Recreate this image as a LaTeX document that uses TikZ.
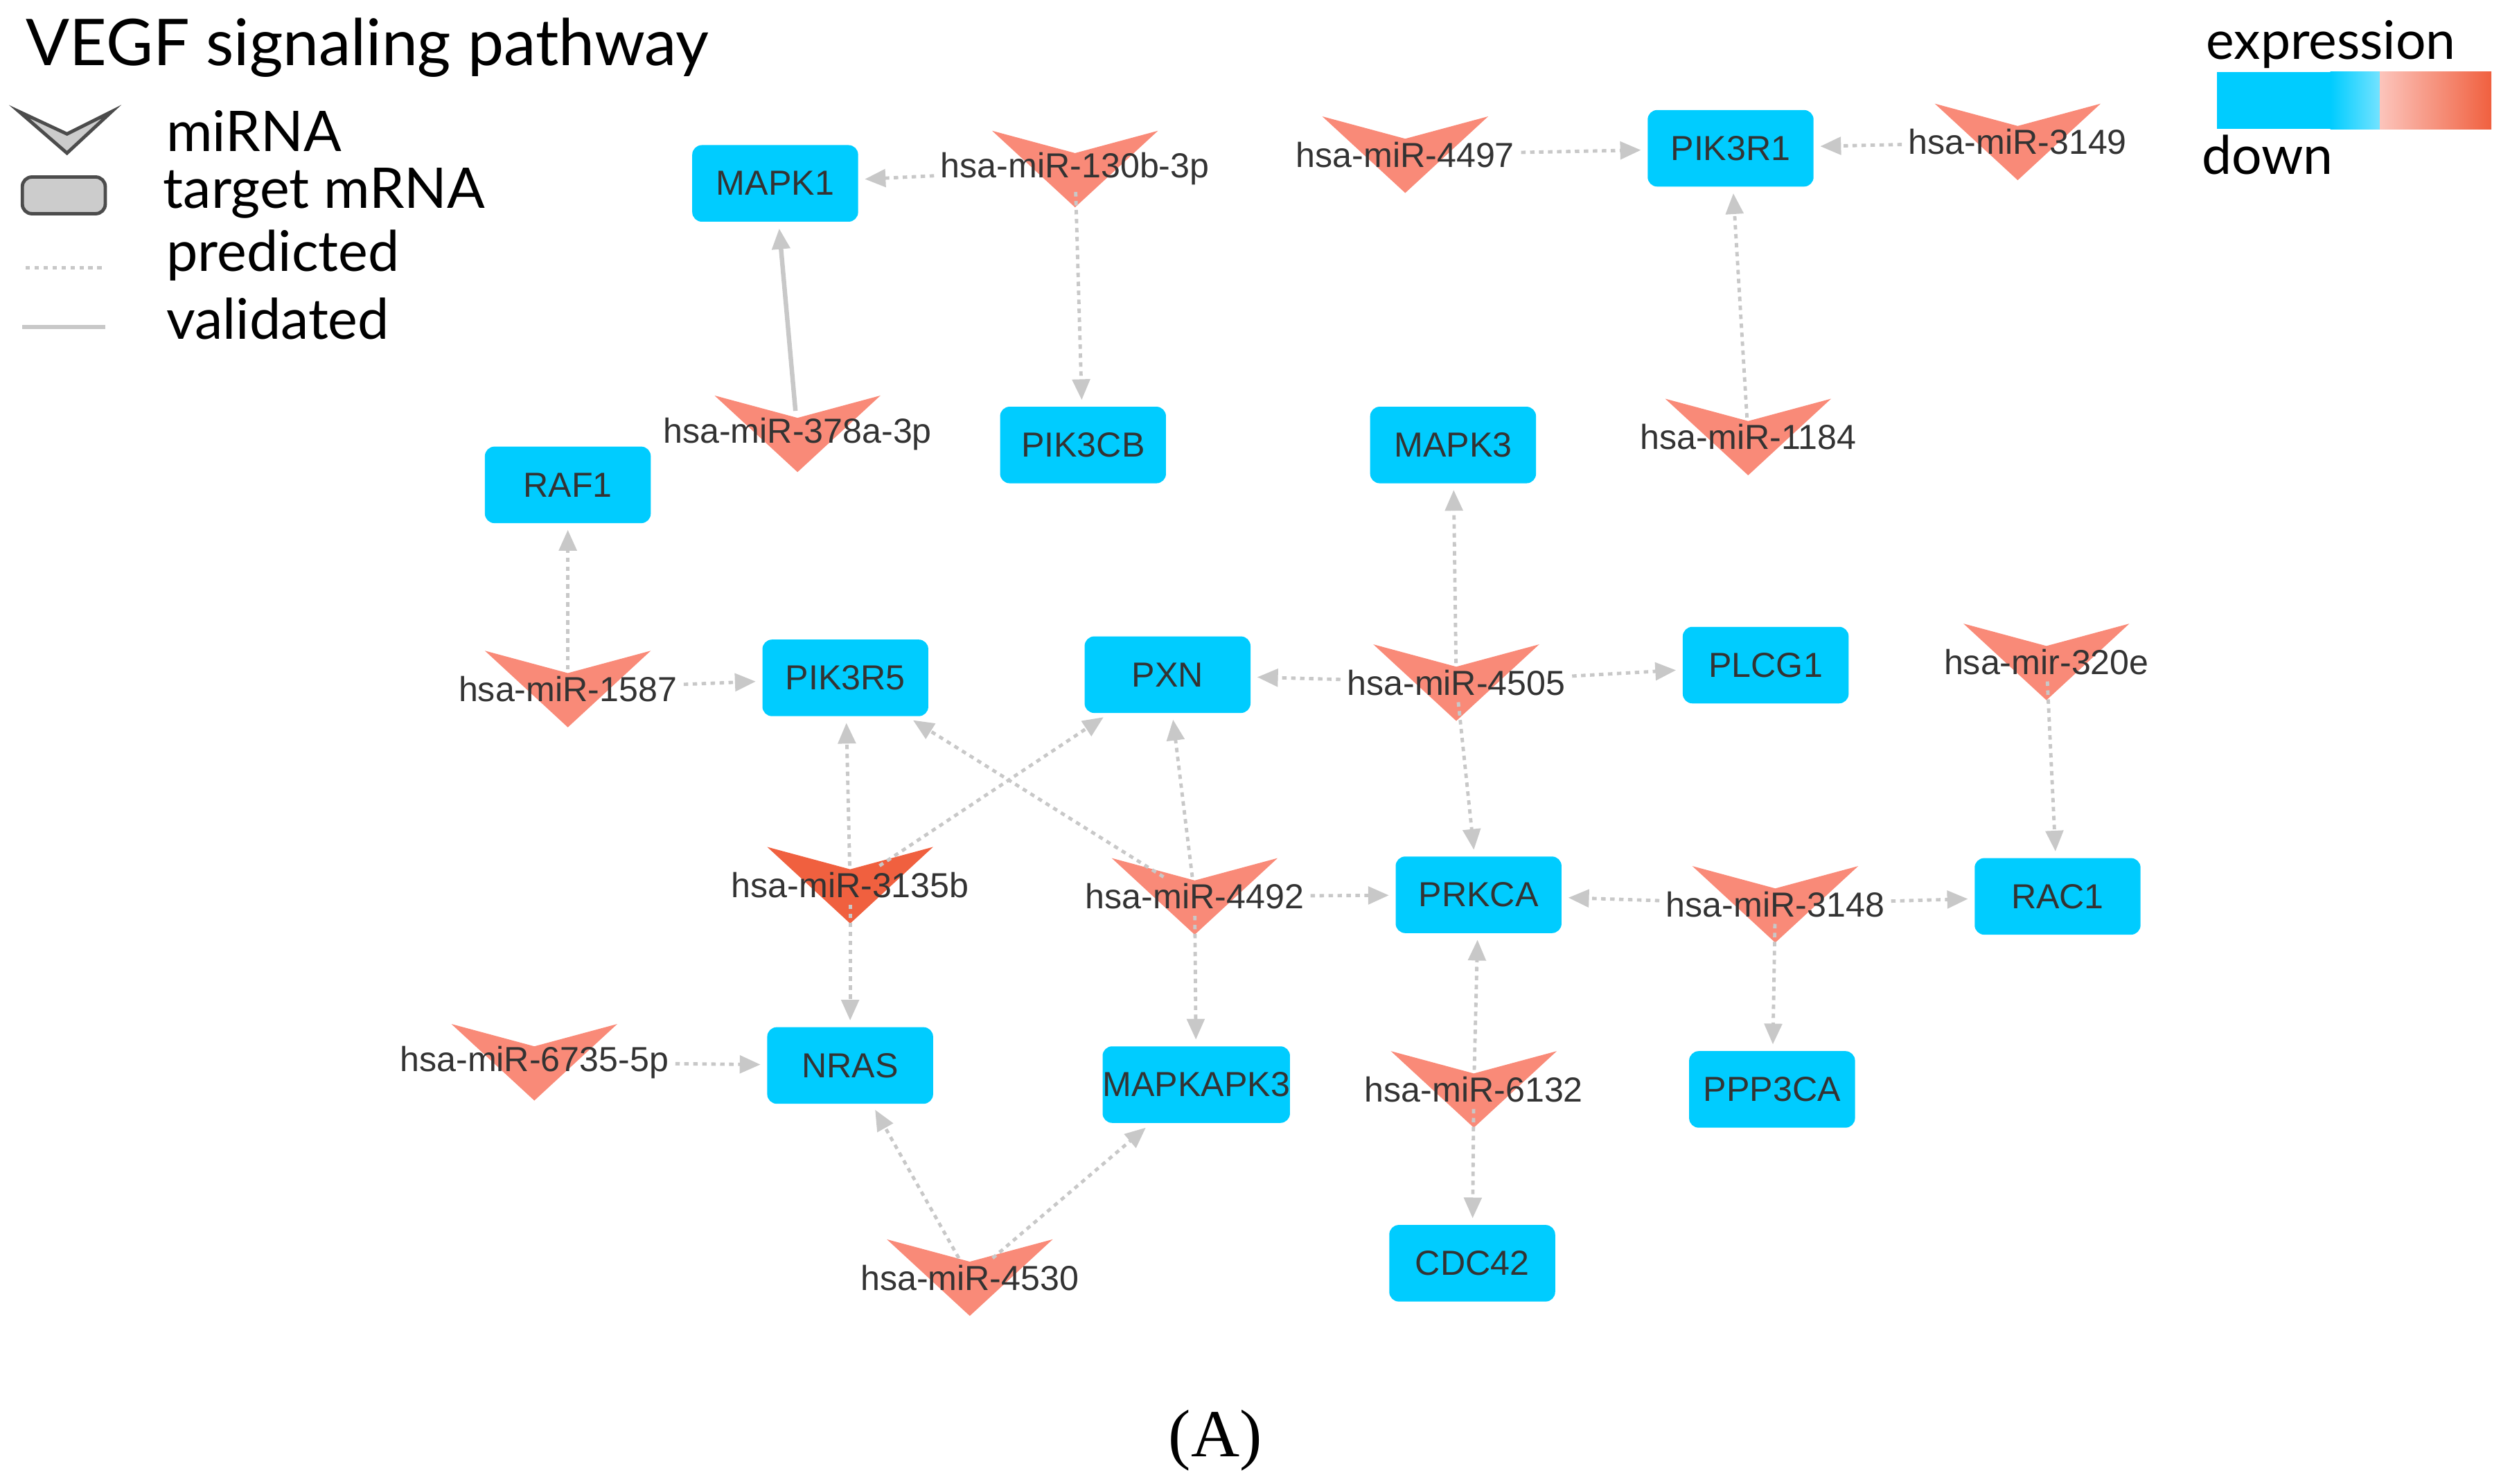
\documentclass[tikz,border=0pt]{standalone}
\usepackage{fontspec}
\setmainfont{Liberation Sans}
\newfontfamily\titlefont{Lato}
\newfontfamily\capfont{Liberation Serif}
\usetikzlibrary{arrows.meta,positioning,shapes}

\definecolor{mrnablue}{RGB}{0,204,255}
\definecolor{mirred}{RGB}{249,138,120}
\definecolor{mirdark}{RGB}{240,96,63}
\definecolor{edgegray}{RGB}{200,200,200}

% chevron + label of one miRNA
\newcommand{\mir}[4]{%
  \fill[#4] ([shift={(-52,-24)}]#2) -- ([shift={(0,-10)}]#2) -- ([shift={(52,-24)}]#2) -- ([shift={(0,24)}]#2) -- cycle;
  \node[mirlbl] (#1) at (#2) {#3};}

\begin{document}
\begin{tikzpicture}[x=0.1mm,y=-0.1mm,
  gene/.style={fill=mrnablue,rounded corners=0.6mm,minimum width=10.4mm,minimum height=4.8mm,inner sep=0pt,font=\fontsize{6.2}{7}\selectfont,text=black!80},
  mirlbl/.style={inner sep=1pt,font=\fontsize{6.2}{7}\selectfont,text=black!80},
  pred/.style={draw=edgegray,line width=0.6pt,dash pattern=on 0.8pt off 0.8pt,-{Triangle[length=1.3mm,width=1.1mm]},shorten >=1pt},
  valid/.style={draw=edgegray,line width=0.8pt,-{Triangle[length=1.3mm,width=1.1mm]},shorten >=1pt},
  leg/.style={anchor=west,font=\titlefont\fontsize{10}{12}\selectfont}]
  \useasboundingbox (0,0) rectangle (1568,930);

  % legend
  \node[anchor=west,font=\titlefont\fontsize{11.5}{13}\selectfont] (title) at (4,30) {VEGF signaling pathway};
  \draw[black!70,fill=black!20,line width=0.6pt] (12,70) -- (42,84) -- (70,70) -- (42,96) -- cycle;
  \node[leg] (lmir) at (92,82) {miRNA};
  \draw[black!70,fill=black!20,line width=0.6pt,rounded corners=0.6mm] (14,111) rectangle (66,134);
  \node[leg] (lmrna) at (90,121) {target mRNA};
  \draw[edgegray,line width=0.6pt,dash pattern=on 0.8pt off 0.8pt] (16,168) -- (64,168);
  \node[leg] (lpred) at (92,160) {predicted};
  \draw[edgegray,line width=0.8pt] (14,205) -- (66,205);
  \node[leg] (lval) at (92,200) {validated};

  % expression bar
  \fill[mrnablue] (1390,45) rectangle (1462,81);
  \shade[left color=mrnablue,right color=mrnablue!55] (1461,45) rectangle (1492,81);
  \shade[left color=mirred!50,right color=mirdark] (1492,45) rectangle (1562,81);
  \node[anchor=east,font=\titlefont\fontsize{9.5}{11}\selectfont] (expr) at (1552,28) {expression};
  \node[anchor=west,font=\titlefont\fontsize{9.5}{11}\selectfont] (down) at (1368,97) {down};

  % target mRNAs
  \node[gene] (MAPK1) at (486,115) {MAPK1};
  \node[gene] (PIK3CB) at (679,279) {PIK3CB};
  \node[gene] (MAPK3) at (911,279) {MAPK3};
  \node[gene] (PIK3R1) at (1085,93) {PIK3R1};
  \node[gene] (RAF1) at (356,304) {RAF1};
  \node[gene] (PIK3R5) at (530,425) {PIK3R5};
  \node[gene] (PXN) at (732,423) {PXN};
  \node[gene] (PLCG1) at (1107,417) {PLCG1};
  \node[gene] (PRKCA) at (927,561) {PRKCA};
  \node[gene] (RAC1) at (1290,562) {RAC1};
  \node[gene] (NRAS) at (533,668) {NRAS};
  \node[gene] (MAPKAPK3) at (750,680) {MAPKAPK3};
  \node[gene] (PPP3CA) at (1111,683) {PPP3CA};
  \node[gene] (CDC42) at (923,792) {CDC42};

  % miRNAs
  \mir{m130b}{674,106}{hsa-miR-130b-3p}{mirred}
  \mir{m4497}{881,97}{hsa-miR-4497}{mirred}
  \mir{m3149}{1265,89}{hsa-miR-3149}{mirred}
  \mir{m378a}{500,272}{hsa-miR-378a-3p}{mirred}
  \mir{m1184}{1096,274}{hsa-miR-1184}{mirred}
  \mir{m1587}{356,432}{hsa-miR-1587}{mirred}
  \mir{m4505}{913,428}{hsa-miR-4505}{mirred}
  \mir{m320e}{1283,415}{hsa-mir-320e}{mirred}
  \mir{m3135b}{533,555}{hsa-miR-3135b}{mirdark}
  \mir{m4492}{749,562}{hsa-miR-4492}{mirred}
  \mir{m3148}{1113,567}{hsa-miR-3148}{mirred}
  \mir{m6735}{335,666}{hsa-miR-6735-5p}{mirred}
  \mir{m6132}{924,683}{hsa-miR-6132}{mirred}
  \mir{m4530}{608,801}{hsa-miR-4530}{mirred}

  % interactions
  \draw[pred] (m130b) -- (MAPK1);
  \draw[pred] (m130b) -- (PIK3CB);
  \draw[valid] (m378a) -- (MAPK1);
  \draw[pred] (m4497) -- (PIK3R1);
  \draw[pred] (m3149) -- (PIK3R1);
  \draw[pred] (m1184) -- (PIK3R1);
  \draw[pred] (m1587) -- (RAF1);
  \draw[pred] (m1587) -- (PIK3R5);
  \draw[pred] (m4505) -- (MAPK3);
  \draw[pred] (m4505) -- (PXN);
  \draw[pred] (m4505) -- (PLCG1);
  \draw[pred] (m4505) -- (PRKCA);
  \draw[pred] (m320e) -- (RAC1);
  \draw[pred] (m3135b) -- (PIK3R5);
  \draw[pred] (m3135b) -- (PXN);
  \draw[pred] (m3135b) -- (NRAS);
  \draw[pred] (m4492) -- (PIK3R5);
  \draw[pred] (m4492) -- (PXN);
  \draw[pred] (m4492) -- (PRKCA);
  \draw[pred] (m4492) -- (MAPKAPK3);
  \draw[pred] (m3148) -- (PRKCA);
  \draw[pred] (m3148) -- (RAC1);
  \draw[pred] (m3148) -- (PPP3CA);
  \draw[pred] (m6735) -- (NRAS);
  \draw[pred] (m6132) -- (PRKCA);
  \draw[pred] (m6132) -- (CDC42);
  \draw[pred] (m4530) -- (NRAS);
  \draw[pred] (m4530) -- (MAPKAPK3);

  \node[font=\capfont\fontsize{12}{14}\selectfont] (cap) at (762,903) {(A)};
\end{tikzpicture}
\end{document}
